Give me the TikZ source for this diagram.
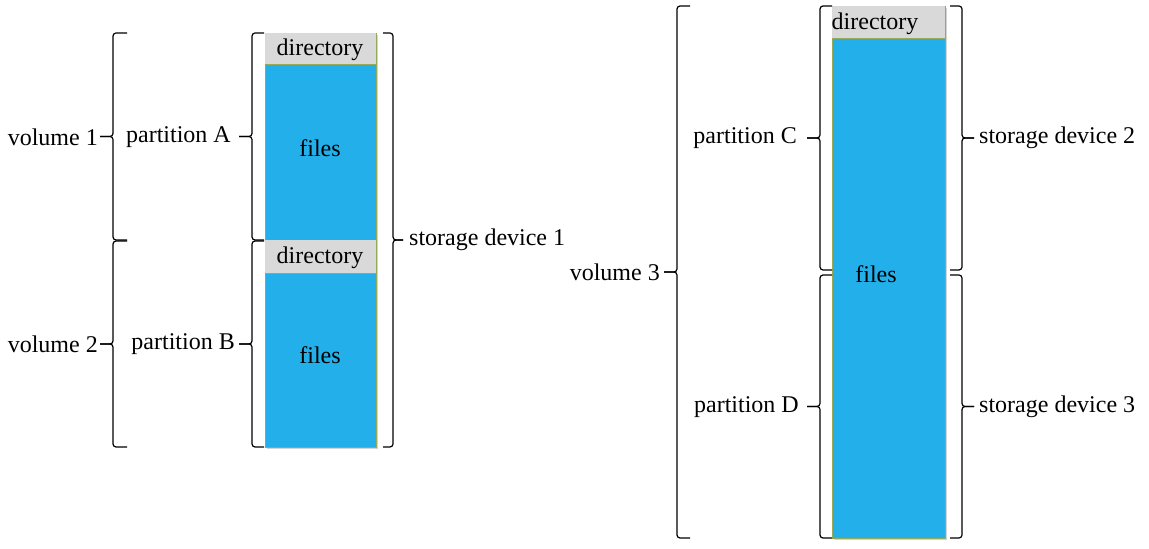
\documentclass[tikz,border=0pt]{standalone}
\usepackage{fontspec}
\setmainfont{Liberation Serif}
\usetikzlibrary{calc,shadows}
\definecolor{filesblue}{RGB}{35,175,234}
\definecolor{dirgray}{RGB}{217,217,217}
\definecolor{edgeolive}{RGB}{150,170,90}
\tikzset{
  lbl/.style={font=\fontsize{24}{27}\selectfont, inner sep=0pt},
  dirbox/.style={fill=dirgray, draw=none, inner sep=0pt, anchor=north west},
  filebox/.style={fill=filesblue, draw=edgeolive, line width=0.6pt, inner sep=0pt, anchor=north west},
  shade/.style={drop shadow={shadow xshift=1.5pt, shadow yshift=-1.5pt, opacity=0.35}},
  brc/.style={line width=1.2pt, rounded corners=3pt},
}
% #1 top end, #2 bottom end, #3 spine offset, #4 tip offset (x, pt)
\newcommand\MyBrace[4]{%
  \draw[brc] let \p1=(#1), \p2=(#2), \n1={(\y1+\y2)/2} in
    (\p1) -- (\x1+#3,\y1) -- (\x1+#3,\n1) -- (\x1+#4,\n1);
  \draw[brc] let \p1=(#1), \p2=(#2), \n1={(\y1+\y2)/2} in
    (\p2) -- (\x1+#3,\y2) -- (\x1+#3,\n1) -- (\x1+#4,\n1);
}
\begin{document}
\begin{tikzpicture}[x=1pt,y=1pt]
\useasboundingbox (0,0) rectangle (1149,549);
% ---- left stack ----
\node[filebox, shade, minimum width=111pt, minimum height=414pt] (stackL) at (265,516) {};
\node[dirbox, minimum width=111pt, minimum height=31pt] (dA) at (265,516) {};
\node[filebox, minimum width=111pt, minimum height=176pt] (fA) at (265,485) {};
\node[dirbox, minimum width=111pt, minimum height=33pt] (dB) at (265,309) {};
\node[filebox, minimum width=111pt, minimum height=174pt] (fB) at (265,276) {};
\node[lbl] (tdA) at (320,499) {directory};
\node[lbl] (tfA) at (320,401) {files};
\node[lbl] (tdB) at (320,291) {directory};
\node[lbl] (tfB) at (320,194) {files};
% ---- right stack ----
\node[filebox, shade, minimum width=113pt, minimum height=532pt] (stackR) at (832,543) {};
\node[dirbox, minimum width=113pt, minimum height=32pt] (dR) at (832,543) {};
\node[filebox, minimum width=113pt, minimum height=500pt] (fR) at (832,511) {};
\node[lbl] (tdR) at (875,525) {directory};
\node[lbl] (tfR) at (876,275) {files};
% ---- brace end points ----
\coordinate (v1t) at (127,516); \coordinate (v1b) at (127,309);
\coordinate (v2t) at (127,308); \coordinate (v2b) at (127,102);
\coordinate (pAt) at (264,516); \coordinate (pAb) at (264,309);
\coordinate (pBt) at (264,308); \coordinate (pBb) at (264,102);
\coordinate (s1t) at (383,516); \coordinate (s1b) at (383,102);
\coordinate (v3t) at (690,543); \coordinate (v3b) at (690,11);
\coordinate (pCt) at (832,543); \coordinate (pCb) at (832,279);
\coordinate (pDt) at (832,274); \coordinate (pDb) at (832,11);
\coordinate (s2t) at (950,543); \coordinate (s2b) at (950,279);
\coordinate (s3t) at (950,274); \coordinate (s3b) at (950,11);
% ---- braces ----
\MyBrace{v1t}{v1b}{-14pt}{-27pt}
\MyBrace{v2t}{v2b}{-14pt}{-27pt}
\MyBrace{pAt}{pAb}{-12pt}{-25pt}
\MyBrace{pBt}{pBb}{-12pt}{-25pt}
\MyBrace{s1t}{s1b}{10pt}{20pt}
\MyBrace{v3t}{v3b}{-13pt}{-26pt}
\MyBrace{pCt}{pCb}{-12pt}{-25pt}
\MyBrace{pDt}{pDb}{-12pt}{-25pt}
\MyBrace{s2t}{s2b}{12pt}{24pt}
\MyBrace{s3t}{s3b}{12pt}{24pt}
% ---- labels ----
\node[lbl, anchor=east] (lv1) at (98,412) {volume 1};
\node[lbl, anchor=east] (lv2) at (98,205) {volume 2};
\node[lbl, anchor=east] (lpA) at (231,412) {partition A};
\node[lbl, anchor=east] (lpB) at (235,205) {partition B};
\node[lbl, anchor=west] (ls1) at (409,309) {storage device 1};
\node[lbl, anchor=east] (lv3) at (660,277) {volume 3};
\node[lbl, anchor=east] (lpC) at (797,411) {partition C};
\node[lbl, anchor=east] (lpD) at (799,142) {partition D};
\node[lbl, anchor=west] (ls2) at (979,411) {storage device 2};
\node[lbl, anchor=west] (ls3) at (979,142) {storage device 3};
\end{tikzpicture}
\end{document}
